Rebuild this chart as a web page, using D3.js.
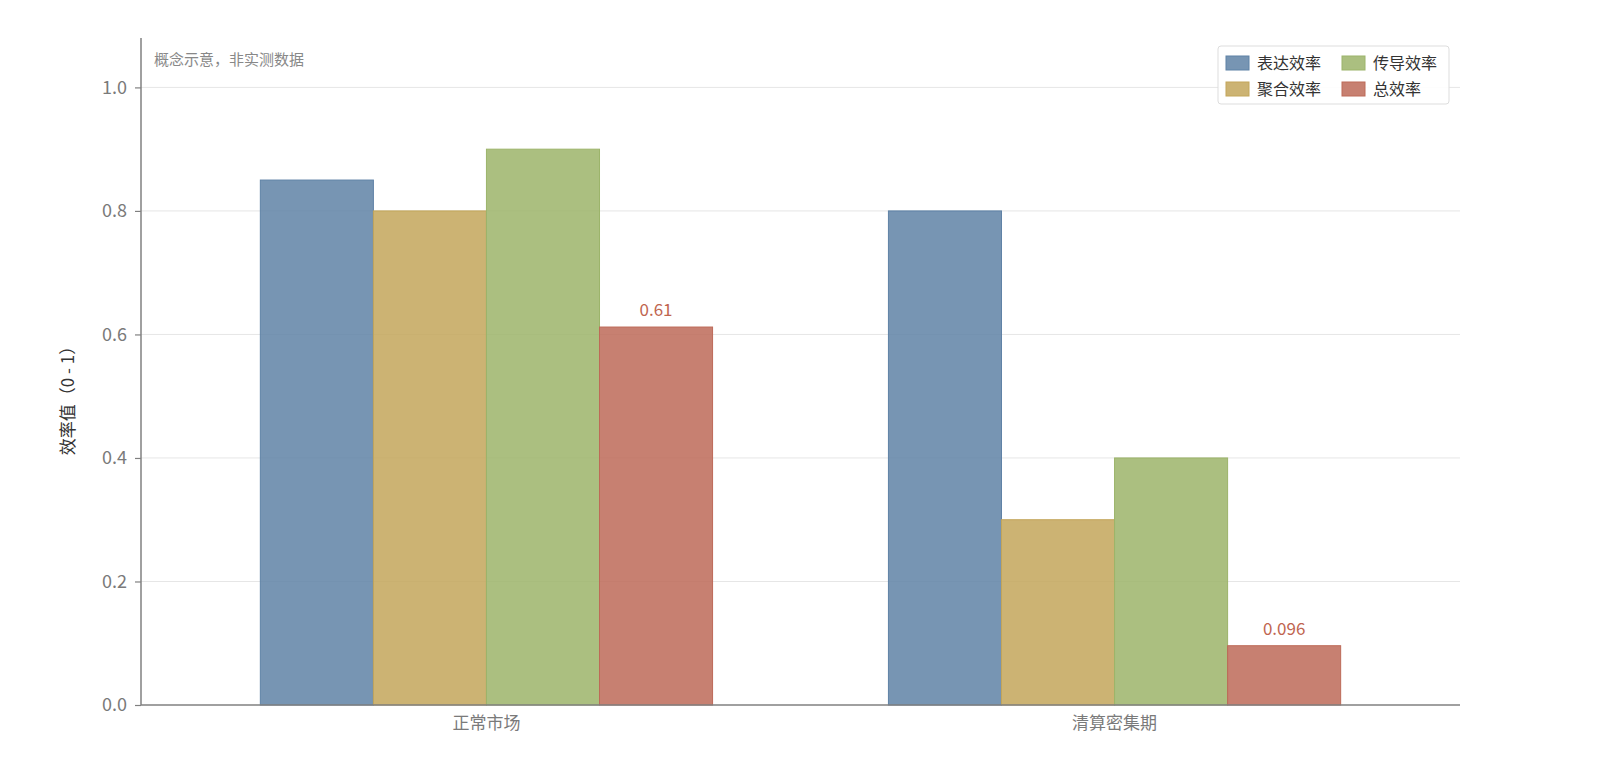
<!DOCTYPE html>
<html>
<head>
<meta charset="utf-8">
<script src="https://cdn.jsdelivr.net/npm/d3@7"></script>
<style>
  body { margin: 0; background: #fff; }
  text { font-family: "Noto Sans CJK SC", "Noto Sans", sans-serif; }
</style>
</head>
<body>
<script>
// chart data
const categories = ["正常市场", "清算密集期"];
const seriesNames = ["表达效率", "聚合效率", "传导效率", "总效率"];
const expressValues = [0.85, 0.80];
const aggregateValues = [0.80, 0.30];
const transmitValues = [0.90, 0.40];
const totalValues = [0.612, 0.096];
const totalLabels = ["0.61", "0.096"];
const yTicks = [0.0, 0.2, 0.4, 0.6, 0.8, 1.0];

const colors = ["#5f82a6", "#c3a65a", "#9cb46a", "#bd6a58"];

const width = 1600;
const height = 778;
const marginTop = 38;
const marginRight = 140;
const marginBottom = 73;
const marginLeft = 141;

const seriesValues = [expressValues, aggregateValues, transmitValues, totalValues];

const svg = d3.select("body")
    .append("svg")
    .attr("width", width)
    .attr("height", height);

const x0 = d3.scaleBand()
    .domain(categories)
    .range([marginLeft, width - marginRight])
    .paddingInner(0.28)
    .paddingOuter(0.19);

const x1 = d3.scaleBand()
    .domain(seriesNames)
    .range([0, x0.bandwidth()])
    .padding(0);

const y = d3.scaleLinear()
    .domain([0, 1.08])
    .range([height - marginBottom, marginTop]);

// grid lines
svg.append("g")
    .selectAll("line")
    .data(yTicks.filter(d => d > 0))
    .join("line")
    .attr("x1", marginLeft)
    .attr("x2", width - marginRight)
    .attr("y1", d => y(d))
    .attr("y2", d => y(d))
    .attr("stroke", "#e6e6e6")
    .attr("stroke-width", 1);

// bars
const groups = svg.append("g")
    .selectAll("g")
    .data(categories)
    .join("g")
    .attr("transform", d => `translate(${x0(d)},0)`);

groups.selectAll("rect")
    .data((c, ci) => seriesNames.map((s, si) => ({ s, si, v: seriesValues[si][ci] })))
    .join("rect")
    .attr("x", d => x1(d.s))
    .attr("y", d => y(d.v))
    .attr("width", x1.bandwidth())
    .attr("height", d => y(0) - y(d.v))
    .attr("fill", d => colors[d.si])
    .attr("fill-opacity", 0.85)
    .attr("stroke", d => colors[d.si])
    .attr("stroke-width", 1);

// value labels on total bars
svg.append("g")
    .selectAll("text")
    .data(categories)
    .join("text")
    .attr("x", (c) => x0(c) + x1("总效率") + x1.bandwidth() / 2)
    .attr("y", (c, i) => y(totalValues[i]) - 11)
    .attr("text-anchor", "middle")
    .attr("font-size", 17)
    .attr("fill", "#c0654f")
    .text((c, i) => totalLabels[i]);

// y axis
const yAxis = svg.append("g")
    .attr("transform", `translate(${marginLeft},0)`)
    .call(d3.axisLeft(y).tickValues(yTicks).tickFormat(d3.format(".1f")).tickSize(6).tickPadding(8));
yAxis.select(".domain")
    .attr("d", `M0,${marginTop}V${y(0)}`)
    .attr("stroke", "#808080")
    .attr("stroke-width", 1.5);
yAxis.selectAll(".tick line").attr("stroke", "#808080").attr("stroke-width", 1.2);
yAxis.selectAll(".tick text").attr("font-size", 18).attr("fill", "#7a7a7a");

// x axis
const xAxis = svg.append("g")
    .attr("transform", `translate(0,${y(0)})`)
    .call(d3.axisBottom(x0).tickSize(0).tickPadding(12));
xAxis.select(".domain")
    .attr("d", `M${marginLeft},0H${width - marginRight}`)
    .attr("stroke", "#808080")
    .attr("stroke-width", 1.5);
xAxis.selectAll(".tick text").attr("font-size", 17).attr("fill", "#7a7a7a");

// y label
svg.append("text")
    .attr("transform", `translate(74,${(marginTop + y(0)) / 2 + 25}) rotate(-90)`)
    .attr("text-anchor", "middle")
    .attr("font-size", 17)
    .attr("fill", "#333")
    .text("效率值（0 - 1）");

// note
svg.append("text")
    .attr("x", 154)
    .attr("y", 65)
    .attr("font-size", 15)
    .attr("fill", "#888")
    .text("概念示意，非实测数据");

// legend (column-major, 2 rows)
const legend = svg.append("g").attr("transform", "translate(1218,46)");
legend.append("rect")
    .attr("width", 231)
    .attr("height", 58)
    .attr("rx", 3)
    .attr("fill", "#fff")
    .attr("fill-opacity", 0.9)
    .attr("stroke", "#dddddd");

const item = legend.selectAll("g")
    .data(seriesNames)
    .join("g")
    .attr("transform", (d, i) => `translate(${8 + Math.floor(i / 2) * 116},${8 + (i % 2) * 26})`);
item.append("rect")
    .attr("width", 23)
    .attr("height", 14)
    .attr("y", 2)
    .attr("fill", (d, i) => colors[i])
    .attr("fill-opacity", 0.85)
    .attr("stroke", (d, i) => colors[i]);
item.append("text")
    .attr("x", 31)
    .attr("y", 15)
    .attr("font-size", 16)
    .attr("fill", "#333")
    .text(d => d);
</script>
</body>
</html>
